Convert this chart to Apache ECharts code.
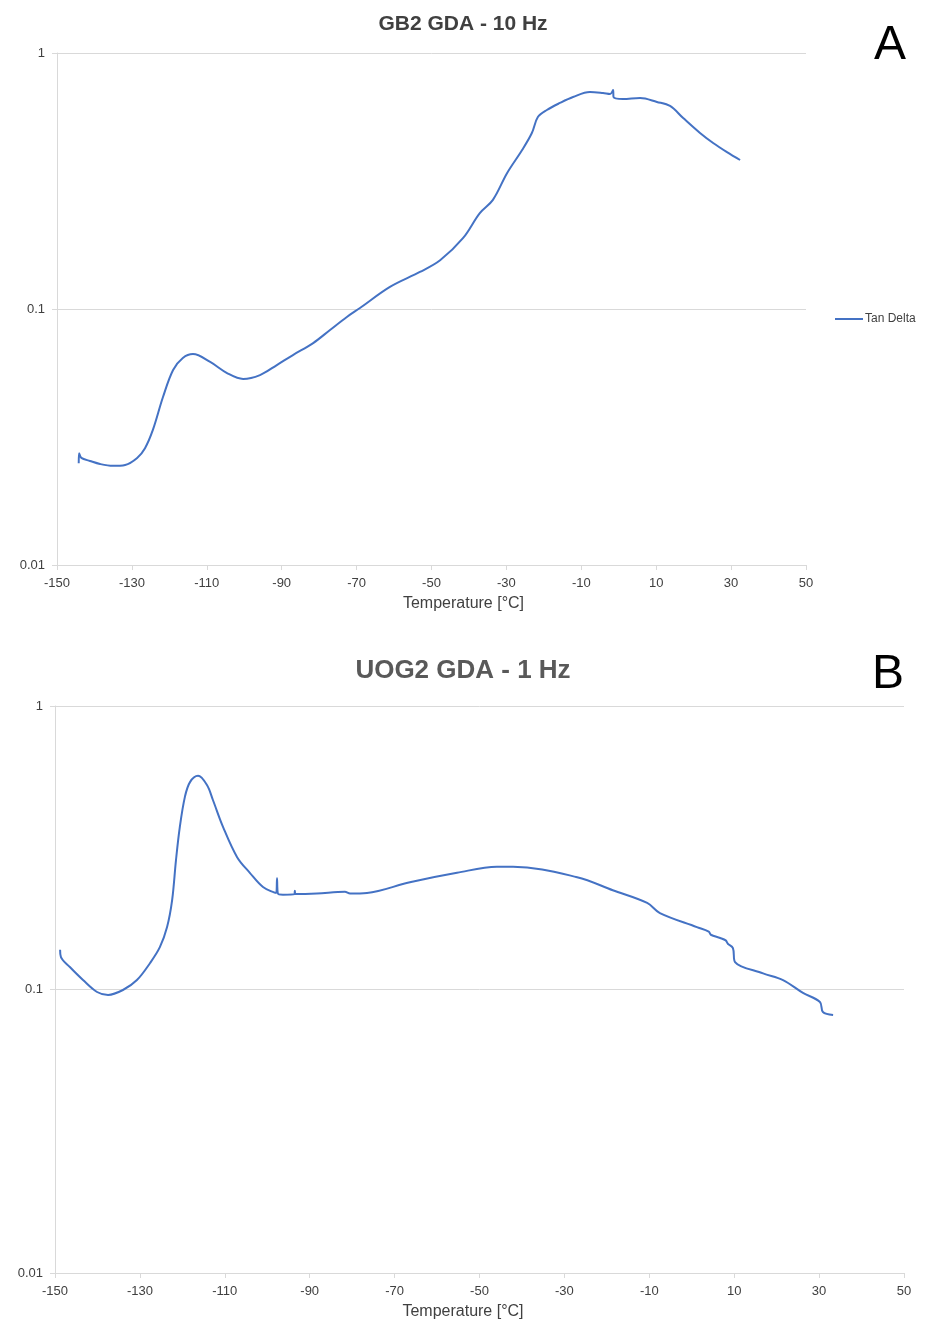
<!DOCTYPE html>
<html>
<head>
<meta charset="utf-8">
<script src="https://cdn.jsdelivr.net/npm/echarts@6/dist/echarts.min.js"></script>
<style>
  html, body { margin: 0; padding: 0; background: #fff; }
  #chart { width: 926px; height: 1322px; }
</style>
</head>
<body>
<div id="chart"></div>
<script>
// GB2 GDA - 10 Hz, tan delta vs temperature
const tempA = [-144.2, -144.1, -143.5, -141.2, -138.5, -135.1, -131.8, -128.6, -126.5, -124.4,
  -121.7, -119.0, -116.4, -113.7, -109.1, -104.6, -100.3, -95.8, -91.3, -87.0,
  -81.6, -77.1, -72.6, -69.1, -61.1, -53.1, -47.7, -41.6, -37.1, -33.6,
  -29.8, -25.8, -23.2, -21.6, -19.2, -15.7, -12.2, -7.7, -4.2, -2.3,
  -1.5, -1.4, 1.1, 5.7, 10.2, 13.7, 17.2, 21.7, 25.2, 28.9, 32.4]
const tanA = [0.0250, 0.0273, 0.0262, 0.0255, 0.0248, 0.0244, 0.0246, 0.0262, 0.0286, 0.0337,
  0.0453, 0.0578, 0.0644, 0.0667, 0.0621, 0.0562, 0.0533, 0.0552, 0.0604, 0.0661,
  0.0736, 0.0828, 0.0931, 0.1009, 0.122, 0.1395, 0.155, 0.189, 0.237, 0.267,
  0.340, 0.418, 0.487, 0.562, 0.599, 0.638, 0.673, 0.704, 0.698, 0.692,
  0.717, 0.673, 0.661, 0.667, 0.644, 0.621, 0.557, 0.487, 0.445, 0.410, 0.382]

// UOG2 GDA - 1 Hz
const tempB = [-148.8, -148.6, -146.5, -143.4, -140.1, -137.5, -134.0, -130.7, -127.6, -125.3,
  -123.6, -122.4, -121.5, -120.6, -119.4, -118.2, -116.3, -114.2, -112.8, -110.4,
  -107.1, -104.1, -101.0, -97.9, -97.7, -97.5, -96.3, -93.6, -93.5, -93.4,
  -88.3, -81.7, -80.5, -76.5, -66.4, -55.3, -45.9, -42.1, -27.0, -18.6,
  -10.5, -7.5, 1.2, 4.0, 4.5, 6.7, 8.0, 8.5, 9.7, 10.2,
  16.8, 21.5, 26.2, 30.2, 30.9, 33.3]
const tanB = [0.138, 0.130, 0.120, 0.108, 0.098, 0.0957, 0.0996, 0.108, 0.124, 0.141,
  0.166, 0.207, 0.286, 0.374, 0.478, 0.539, 0.567, 0.526, 0.466, 0.374,
  0.293, 0.258, 0.230, 0.219, 0.247, 0.218, 0.216, 0.217, 0.223, 0.217,
  0.218, 0.221, 0.218, 0.219, 0.239, 0.258, 0.271, 0.271, 0.249, 0.224,
  0.202, 0.186, 0.166, 0.160, 0.156, 0.152, 0.149, 0.145, 0.140, 0.125,
  0.114, 0.108, 0.0973, 0.0904, 0.0833, 0.0813]

const xTicks = [-150, 50, 20]   // min, max, step
const yRange = [0.01, 1]

const font = "'Liberation Sans', Arial, sans-serif"
const lineColor = '#4472C4'
const textColor = '#404040'

function pairs (xs, ys) {
    return xs.map((x, i) => [x, ys[i]])
}

// namePad: shifts the axis title so it sits centred on the whole panel
function xAxisOf (gridIndex, namePad) {
    return {
        gridIndex: gridIndex,
        type: 'value',
        min: xTicks[0],
        max: xTicks[1],
        interval: xTicks[2],
        name: 'Temperature [°C]',
        nameLocation: 'middle',
        nameGap: 31,
        nameTextStyle: { fontFamily: font, fontSize: 16, color: textColor, padding: namePad },
        axisLine: { show: true, onZero: false, lineStyle: { color: '#d9d9d9', width: 1 } },
        axisTick: { show: true, length: 5, lineStyle: { color: '#d9d9d9' } },
        axisLabel: { fontFamily: font, fontSize: 13, color: textColor, margin: 12 },
        splitLine: { show: false }
    }
}

function yAxisOf (gridIndex) {
    return {
        gridIndex: gridIndex,
        type: 'log',
        logBase: 10,
        min: yRange[0],
        max: yRange[1],
        axisLine: { show: true, onZero: false, lineStyle: { color: '#d9d9d9', width: 1 } },
        axisTick: { show: true, length: 5, lineStyle: { color: '#d9d9d9' } },
        axisLabel: {
            fontFamily: font, fontSize: 13, color: textColor, margin: 12,
            formatter: (v) => String(v)
        },
        splitLine: { show: true, lineStyle: { color: '#d9d9d9', width: 1 } },
        minorTick: { show: false },
        minorSplitLine: { show: false }
    }
}

let myChart = echarts.init(document.getElementById('chart'))
let option = {
    animation: false,
    backgroundColor: '#fff',
    title: [{
        text: 'GB2 GDA - 10 Hz',
        left: 458, top: 9, textAlign: 'center',
        textStyle: { fontFamily: font, fontSize: 21, fontWeight: 'bold', color: textColor }
    }, {
        text: 'A',
        left: 885, top: 17, textAlign: 'center',
        textStyle: { fontFamily: font, fontSize: 48, fontWeight: 'normal', color: '#000' }
    }, {
        text: 'UOG2 GDA - 1 Hz',
        left: 458, top: 653, textAlign: 'center',
        textStyle: { fontFamily: font, fontSize: 26, fontWeight: 'bold', color: '#595959' }
    }, {
        text: 'B',
        left: 883, top: 646, textAlign: 'center',
        textStyle: { fontFamily: font, fontSize: 48, fontWeight: 'normal', color: '#000' }
    }],
    legend: {
        data: ['Tan Delta'],
        icon: 'rect',
        left: 830, top: 308,
        itemWidth: 28, itemHeight: 2, itemGap: 4,
        textStyle: { fontFamily: font, fontSize: 12, color: textColor, padding: [0, 0, 0, -3] }
    },
    grid: [
        { left: 57, right: 120, top: 53, height: 512 },
        { left: 55, right: 22, top: 706, height: 567 }
    ],
    xAxis: [xAxisOf(0, [0, 0, 0, 64]), xAxisOf(1, [0, 33, 0, 0])],
    yAxis: [yAxisOf(0), yAxisOf(1)],
    series: [{
        name: 'Tan Delta',
        type: 'line',
        xAxisIndex: 0, yAxisIndex: 0,
        symbol: 'none',
        smooth: 0.35,
        lineStyle: { color: lineColor, width: 2 },
        itemStyle: { color: lineColor },
        data: pairs(tempA, tanA)
    }, {
        name: 'Tan Delta',
        type: 'line',
        xAxisIndex: 1, yAxisIndex: 1,
        symbol: 'none',
        smooth: 0.35,
        lineStyle: { color: lineColor, width: 2 },
        itemStyle: { color: lineColor },
        data: pairs(tempB, tanB)
    }]
}
myChart.setOption(option)
window.addEventListener('resize', function () {
    myChart.resize()
})
</script>
</body>
</html>
